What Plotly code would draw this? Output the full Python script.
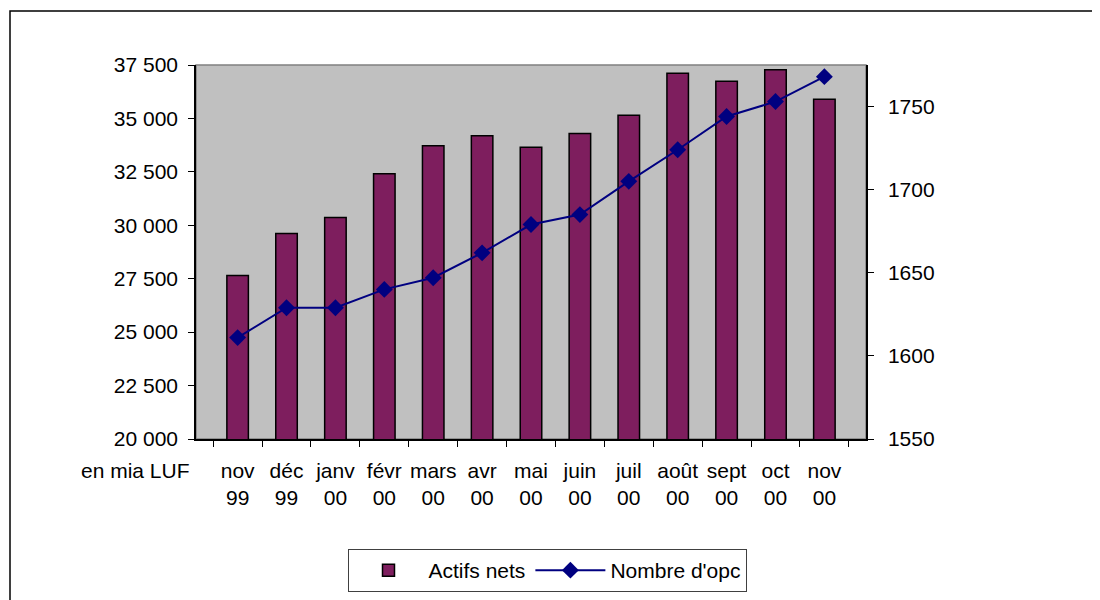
import plotly.graph_objects as go

months = ["nov<br>99", "déc<br>99", "janv<br>00", "févr<br>00", "mars<br>00", "avr<br>00",
          "mai<br>00", "juin<br>00", "juil<br>00", "août<br>00", "sept<br>00", "oct<br>00", "nov<br>00"]
actifs_nets = [27650, 29620, 30370, 32410, 33720, 34190, 33650, 34290, 35150, 37110, 36740, 37280, 35900]
nombre_opc = [1611, 1629, 1629, 1640, 1647, 1662, 1679, 1685, 1705, 1724, 1744, 1753, 1768]
left_ticks = [20000, 22500, 25000, 27500, 30000, 32500, 35000, 37500]
right_ticks = [1550, 1600, 1650, 1700, 1750]

FONT = "Liberation Sans, Arial, sans-serif"
OFF = 8  # page body margin of the browser
W, H = 1100 - OFF, 600 - OFF
# plot area in reference pixel coordinates
X0, X1, Y0, Y1 = 196, 866, 65, 439
L, T = X0 - OFF, Y0 - OFF
R, B = W - (X1 - OFF), H - (Y1 - OFF)
pw, ph = X1 - X0, Y1 - Y0

def px(x):
    return (x - X0) / pw

def py(y):
    return (Y1 - y) / ph

fig = go.Figure()
fig.add_trace(go.Bar(
    x=months, y=actifs_nets, name="Actifs nets", width=0.44,
    marker=dict(color="#7E1E5E", line=dict(color="black", width=1.5)),
    yaxis="y",
))
fig.add_trace(go.Scatter(
    x=months, y=nombre_opc, name="Nombre d'opc", mode="lines+markers",
    line=dict(color="#000080", width=2),
    marker=dict(symbol="diamond", size=13, color="#000080"),
    yaxis="y2",
))

fig.update_layout(
    width=W, height=H,
    margin=dict(l=L, r=R, t=T, b=B, autoexpand=False),
    paper_bgcolor="white",
    plot_bgcolor="#C0C0C0",
    font=dict(family=FONT, size=21, color="black"),
    separators=", ",
    xaxis=dict(
        type="category", tickson="boundaries", ticks="outside", ticklen=6,
        tickcolor="black", showline=True, linecolor="black", linewidth=1.5,
        showgrid=False, tickangle=0, automargin=False,
        ticklabelstandoff=12,
    ),
    yaxis=dict(
        range=[20000, 37500], tickvals=left_ticks, tickformat=",d",
        ticks="outside", ticklen=6, tickcolor="black", automargin=False,
        showline=True, linecolor="black", linewidth=1.5, showgrid=False,
        zeroline=False, ticklabelstandoff=6,
    ),
    yaxis2=dict(
        range=[1550, 1775], tickvals=right_ticks, overlaying="y", side="right",
        ticks="outside", ticklen=6, tickcolor="black", automargin=False,
        showline=True, linecolor="black", linewidth=1.5, showgrid=False,
        zeroline=False, ticklabelstandoff=10,
    ),
    legend=dict(
        orientation="h", xanchor="center", x=px(547), yanchor="top", y=py(549),
        bordercolor="#404040", borderwidth=1, bgcolor="white",
        tracegroupgap=0, itemwidth=70,
    ),
    showlegend=True,
    shapes=[
        dict(type="rect", xref="paper", yref="paper", x0=0, x1=1, y0=0, y1=1,
             line=dict(color="#808080", width=1.5), layer="below"),
        dict(type="rect", xref="paper", yref="paper", x0=px(10), x1=px(1120),
             y0=py(620), y1=py(11), line=dict(color="black", width=1.5)),
    ],
    annotations=[
        dict(text="en mia LUF", xref="paper", yref="paper", x=px(192), y=py(470),
             xanchor="right", yanchor="middle", showarrow=False),
    ],
)

fig.write_html("out.html")
